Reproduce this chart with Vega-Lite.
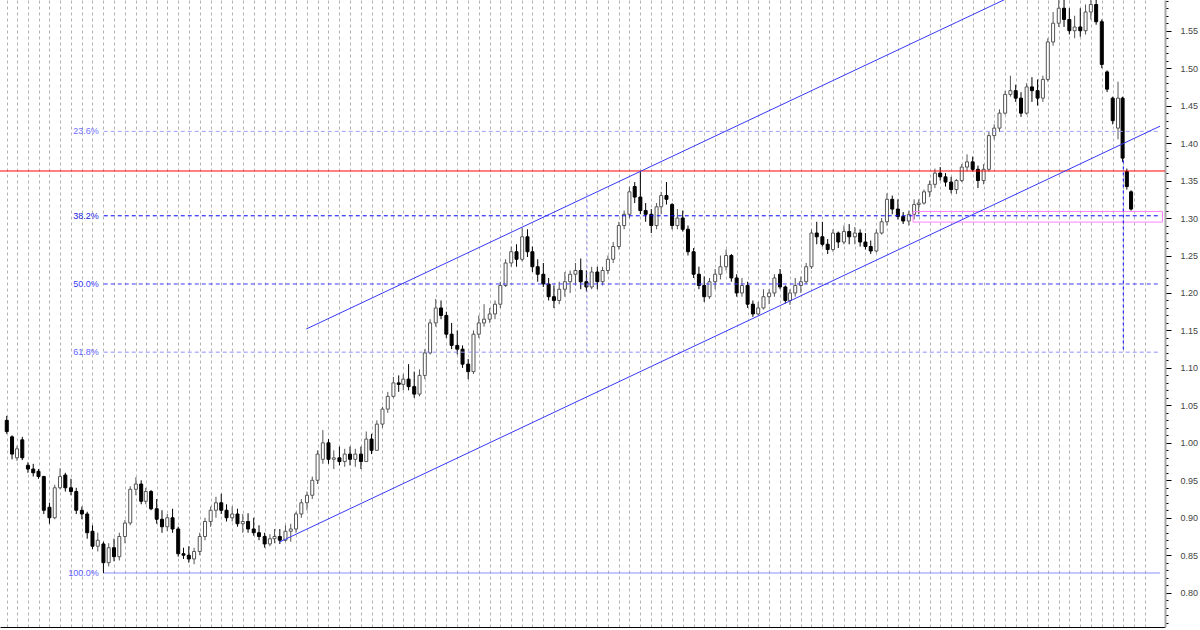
{
  "$schema": "https://vega.github.io/schema/vega-lite/v6.json",
  "width": 1165,
  "height": 627,
  "autosize": {"type": "none"},
  "padding": {"left": 0, "top": 0, "right": 35, "bottom": 3},
  "background": "white",
  "config": {
    "view": {"stroke": null},
    "font": "Liberation Sans",
    "axisX": {"title": null, "labels": false, "ticks": false, "domain": true, "domainColor": "#000000", "domainWidth": 1, "grid": true, "gridColor": "#b2b2b2", "gridDash": [3, 3], "gridWidth": 1},
    "axisY": {"title": null, "grid": false, "labelExpr": "round(datum.value*100) % 5 == 0 ? format(datum.value, '.2f') : ''", "labelOverlap": false, "labelFlush": false, "labelBound": false, "labelFontSize": 9, "labelColor": "#444444", "labelPadding": 9, "tickColor": "#000000", "tickWidth": 1, "domainColor": "#a8a8a8", "domainWidth": 2}
  },
  "datasets": {
    "bars": [
      {"d":"2000-02-01","o":1.030,"h":1.036,"l":1.012,"c":1.015},
      {"d":"2000-02-16","o":1.008,"h":1.010,"l":0.978,"c":0.985},
      {"d":"2000-03-01","o":0.980,"h":0.996,"l":0.976,"c":0.992},
      {"d":"2000-03-16","o":1.004,"h":1.008,"l":0.977,"c":0.980},
      {"d":"2000-04-01","o":0.970,"h":0.974,"l":0.960,"c":0.965},
      {"d":"2000-04-16","o":0.965,"h":0.972,"l":0.955,"c":0.960},
      {"d":"2000-05-01","o":0.962,"h":0.965,"l":0.952,"c":0.955},
      {"d":"2000-05-16","o":0.955,"h":0.956,"l":0.905,"c":0.910},
      {"d":"2000-06-01","o":0.914,"h":0.920,"l":0.892,"c":0.900},
      {"d":"2000-06-16","o":0.900,"h":0.944,"l":0.898,"c":0.940},
      {"d":"2000-07-01","o":0.940,"h":0.966,"l":0.938,"c":0.955},
      {"d":"2000-07-16","o":0.957,"h":0.960,"l":0.935,"c":0.940},
      {"d":"2000-08-01","o":0.940,"h":0.952,"l":0.930,"c":0.935},
      {"d":"2000-08-16","o":0.935,"h":0.940,"l":0.905,"c":0.910},
      {"d":"2000-09-01","o":0.910,"h":0.915,"l":0.898,"c":0.905},
      {"d":"2000-09-16","o":0.905,"h":0.908,"l":0.872,"c":0.880},
      {"d":"2000-10-01","o":0.882,"h":0.890,"l":0.858,"c":0.862},
      {"d":"2000-10-16","o":0.862,"h":0.880,"l":0.855,"c":0.870},
      {"d":"2000-11-01","o":0.865,"h":0.868,"l":0.826,"c":0.840},
      {"d":"2000-11-16","o":0.840,"h":0.866,"l":0.835,"c":0.860},
      {"d":"2000-12-01","o":0.860,"h":0.872,"l":0.842,"c":0.848},
      {"d":"2000-12-16","o":0.848,"h":0.880,"l":0.843,"c":0.875},
      {"d":"2001-01-01","o":0.875,"h":0.897,"l":0.866,"c":0.893},
      {"d":"2001-01-16","o":0.893,"h":0.942,"l":0.890,"c":0.938},
      {"d":"2001-02-01","o":0.938,"h":0.954,"l":0.930,"c":0.945},
      {"d":"2001-02-16","o":0.945,"h":0.950,"l":0.918,"c":0.922},
      {"d":"2001-03-01","o":0.922,"h":0.940,"l":0.918,"c":0.935},
      {"d":"2001-03-16","o":0.935,"h":0.937,"l":0.910,"c":0.912},
      {"d":"2001-04-01","o":0.912,"h":0.925,"l":0.892,"c":0.898},
      {"d":"2001-04-16","o":0.898,"h":0.910,"l":0.880,"c":0.888},
      {"d":"2001-05-01","o":0.888,"h":0.905,"l":0.882,"c":0.900},
      {"d":"2001-05-16","o":0.900,"h":0.912,"l":0.880,"c":0.885},
      {"d":"2001-06-01","o":0.885,"h":0.888,"l":0.848,"c":0.852},
      {"d":"2001-06-16","o":0.852,"h":0.860,"l":0.845,"c":0.850},
      {"d":"2001-07-01","o":0.850,"h":0.862,"l":0.840,"c":0.845},
      {"d":"2001-07-16","o":0.845,"h":0.860,"l":0.838,"c":0.855},
      {"d":"2001-08-01","o":0.855,"h":0.880,"l":0.850,"c":0.875},
      {"d":"2001-08-16","o":0.875,"h":0.900,"l":0.870,"c":0.895},
      {"d":"2001-09-01","o":0.895,"h":0.915,"l":0.888,"c":0.910},
      {"d":"2001-09-16","o":0.910,"h":0.928,"l":0.900,"c":0.920},
      {"d":"2001-10-01","o":0.920,"h":0.932,"l":0.905,"c":0.910},
      {"d":"2001-10-16","o":0.910,"h":0.918,"l":0.895,"c":0.900},
      {"d":"2001-11-01","o":0.900,"h":0.915,"l":0.895,"c":0.905},
      {"d":"2001-11-16","o":0.905,"h":0.912,"l":0.888,"c":0.892},
      {"d":"2001-12-01","o":0.892,"h":0.905,"l":0.880,"c":0.895},
      {"d":"2001-12-16","o":0.895,"h":0.906,"l":0.880,"c":0.885},
      {"d":"2002-01-01","o":0.885,"h":0.900,"l":0.876,"c":0.880},
      {"d":"2002-01-16","o":0.880,"h":0.890,"l":0.870,"c":0.875},
      {"d":"2002-02-01","o":0.875,"h":0.880,"l":0.860,"c":0.865},
      {"d":"2002-02-16","o":0.865,"h":0.878,"l":0.862,"c":0.872},
      {"d":"2002-03-01","o":0.872,"h":0.885,"l":0.866,"c":0.875},
      {"d":"2002-03-16","o":0.875,"h":0.885,"l":0.865,"c":0.870},
      {"d":"2002-04-01","o":0.870,"h":0.890,"l":0.868,"c":0.882},
      {"d":"2002-04-16","o":0.882,"h":0.892,"l":0.868,"c":0.885},
      {"d":"2002-05-01","o":0.885,"h":0.908,"l":0.880,"c":0.905},
      {"d":"2002-05-16","o":0.905,"h":0.925,"l":0.900,"c":0.920},
      {"d":"2002-06-01","o":0.920,"h":0.935,"l":0.910,"c":0.930},
      {"d":"2002-06-16","o":0.930,"h":0.955,"l":0.925,"c":0.950},
      {"d":"2002-07-01","o":0.950,"h":0.990,"l":0.945,"c":0.985},
      {"d":"2002-07-16","o":0.978,"h":1.017,"l":0.972,"c":1.000},
      {"d":"2002-08-01","o":1.000,"h":1.005,"l":0.972,"c":0.978},
      {"d":"2002-08-16","o":0.978,"h":0.990,"l":0.965,"c":0.980},
      {"d":"2002-09-01","o":0.980,"h":0.995,"l":0.970,"c":0.975},
      {"d":"2002-09-16","o":0.975,"h":0.992,"l":0.968,"c":0.985},
      {"d":"2002-10-01","o":0.985,"h":0.995,"l":0.970,"c":0.978},
      {"d":"2002-10-16","o":0.978,"h":0.992,"l":0.968,"c":0.985},
      {"d":"2002-11-01","o":0.985,"h":0.995,"l":0.965,"c":0.975},
      {"d":"2002-11-16","o":0.975,"h":1.015,"l":0.975,"c":1.005},
      {"d":"2002-12-01","o":1.005,"h":1.012,"l":0.985,"c":0.990},
      {"d":"2002-12-16","o":0.990,"h":1.030,"l":0.990,"c":1.025},
      {"d":"2003-01-01","o":1.025,"h":1.048,"l":1.020,"c":1.045},
      {"d":"2003-01-16","o":1.045,"h":1.068,"l":1.040,"c":1.062},
      {"d":"2003-02-01","o":1.062,"h":1.088,"l":1.060,"c":1.080},
      {"d":"2003-02-16","o":1.080,"h":1.090,"l":1.068,"c":1.078},
      {"d":"2003-03-01","o":1.078,"h":1.092,"l":1.070,"c":1.085},
      {"d":"2003-03-16","o":1.085,"h":1.105,"l":1.070,"c":1.075},
      {"d":"2003-04-01","o":1.075,"h":1.095,"l":1.060,"c":1.065},
      {"d":"2003-04-16","o":1.065,"h":1.098,"l":1.062,"c":1.090},
      {"d":"2003-05-01","o":1.090,"h":1.125,"l":1.085,"c":1.120},
      {"d":"2003-05-16","o":1.120,"h":1.165,"l":1.118,"c":1.160},
      {"d":"2003-06-01","o":1.160,"h":1.192,"l":1.155,"c":1.180},
      {"d":"2003-06-16","o":1.180,"h":1.190,"l":1.165,"c":1.170},
      {"d":"2003-07-01","o":1.170,"h":1.175,"l":1.140,"c":1.145},
      {"d":"2003-07-16","o":1.145,"h":1.160,"l":1.125,"c":1.130},
      {"d":"2003-08-01","o":1.130,"h":1.150,"l":1.118,"c":1.125},
      {"d":"2003-08-16","o":1.125,"h":1.130,"l":1.100,"c":1.105},
      {"d":"2003-09-01","o":1.105,"h":1.112,"l":1.085,"c":1.095},
      {"d":"2003-09-16","o":1.095,"h":1.150,"l":1.092,"c":1.145},
      {"d":"2003-10-01","o":1.145,"h":1.170,"l":1.140,"c":1.160},
      {"d":"2003-10-16","o":1.160,"h":1.185,"l":1.155,"c":1.165},
      {"d":"2003-11-01","o":1.165,"h":1.180,"l":1.160,"c":1.172},
      {"d":"2003-11-16","o":1.172,"h":1.190,"l":1.165,"c":1.185},
      {"d":"2003-12-01","o":1.185,"h":1.215,"l":1.180,"c":1.210},
      {"d":"2003-12-16","o":1.210,"h":1.245,"l":1.208,"c":1.240},
      {"d":"2004-01-01","o":1.240,"h":1.262,"l":1.235,"c":1.255},
      {"d":"2004-01-16","o":1.255,"h":1.265,"l":1.235,"c":1.245},
      {"d":"2004-02-01","o":1.245,"h":1.287,"l":1.242,"c":1.275},
      {"d":"2004-02-16","o":1.275,"h":1.285,"l":1.248,"c":1.255},
      {"d":"2004-03-01","o":1.255,"h":1.262,"l":1.228,"c":1.235},
      {"d":"2004-03-16","o":1.235,"h":1.245,"l":1.215,"c":1.225},
      {"d":"2004-04-01","o":1.225,"h":1.240,"l":1.208,"c":1.212},
      {"d":"2004-04-16","o":1.212,"h":1.220,"l":1.190,"c":1.195},
      {"d":"2004-05-01","o":1.195,"h":1.210,"l":1.180,"c":1.190},
      {"d":"2004-05-16","o":1.190,"h":1.215,"l":1.185,"c":1.205},
      {"d":"2004-06-01","o":1.205,"h":1.228,"l":1.195,"c":1.215},
      {"d":"2004-06-16","o":1.215,"h":1.230,"l":1.200,"c":1.225},
      {"d":"2004-07-01","o":1.225,"h":1.240,"l":1.210,"c":1.230},
      {"d":"2004-07-16","o":1.230,"h":1.246,"l":1.205,"c":1.215},
      {"d":"2004-08-01","o":1.215,"h":1.230,"l":1.202,"c":1.208},
      {"d":"2004-08-16","o":1.208,"h":1.235,"l":1.205,"c":1.228},
      {"d":"2004-09-01","o":1.228,"h":1.235,"l":1.205,"c":1.215},
      {"d":"2004-09-16","o":1.215,"h":1.235,"l":1.210,"c":1.230},
      {"d":"2004-10-01","o":1.230,"h":1.250,"l":1.225,"c":1.245},
      {"d":"2004-10-16","o":1.245,"h":1.268,"l":1.240,"c":1.262},
      {"d":"2004-11-01","o":1.262,"h":1.295,"l":1.258,"c":1.290},
      {"d":"2004-11-16","o":1.290,"h":1.310,"l":1.285,"c":1.305},
      {"d":"2004-12-01","o":1.305,"h":1.342,"l":1.300,"c":1.335},
      {"d":"2004-12-16","o":1.342,"h":1.348,"l":1.320,"c":1.328},
      {"d":"2005-01-01","o":1.328,"h":1.362,"l":1.305,"c":1.310},
      {"d":"2005-01-16","o":1.310,"h":1.320,"l":1.295,"c":1.305},
      {"d":"2005-02-01","o":1.305,"h":1.312,"l":1.280,"c":1.290},
      {"d":"2005-02-16","o":1.290,"h":1.320,"l":1.285,"c":1.315},
      {"d":"2005-03-01","o":1.315,"h":1.335,"l":1.305,"c":1.330},
      {"d":"2005-03-16","o":1.330,"h":1.348,"l":1.318,"c":1.325},
      {"d":"2005-04-01","o":1.318,"h":1.320,"l":1.285,"c":1.290},
      {"d":"2005-04-16","o":1.290,"h":1.312,"l":1.285,"c":1.300},
      {"d":"2005-05-01","o":1.300,"h":1.310,"l":1.282,"c":1.285},
      {"d":"2005-05-16","o":1.285,"h":1.290,"l":1.250,"c":1.255},
      {"d":"2005-06-01","o":1.255,"h":1.260,"l":1.220,"c":1.225},
      {"d":"2005-06-16","o":1.225,"h":1.235,"l":1.205,"c":1.210},
      {"d":"2005-07-01","o":1.210,"h":1.222,"l":1.188,"c":1.195},
      {"d":"2005-07-16","o":1.195,"h":1.220,"l":1.192,"c":1.215},
      {"d":"2005-08-01","o":1.215,"h":1.232,"l":1.205,"c":1.225},
      {"d":"2005-08-16","o":1.225,"h":1.250,"l":1.218,"c":1.235},
      {"d":"2005-09-01","o":1.235,"h":1.258,"l":1.230,"c":1.250},
      {"d":"2005-09-16","o":1.250,"h":1.252,"l":1.215,"c":1.220},
      {"d":"2005-10-01","o":1.220,"h":1.225,"l":1.195,"c":1.200},
      {"d":"2005-10-16","o":1.200,"h":1.220,"l":1.195,"c":1.210},
      {"d":"2005-11-01","o":1.210,"h":1.215,"l":1.180,"c":1.185},
      {"d":"2005-11-16","o":1.185,"h":1.190,"l":1.168,"c":1.172},
      {"d":"2005-12-01","o":1.172,"h":1.188,"l":1.170,"c":1.180},
      {"d":"2005-12-16","o":1.180,"h":1.205,"l":1.178,"c":1.195},
      {"d":"2006-01-01","o":1.195,"h":1.205,"l":1.185,"c":1.200},
      {"d":"2006-01-16","o":1.200,"h":1.225,"l":1.195,"c":1.220},
      {"d":"2006-02-01","o":1.225,"h":1.232,"l":1.205,"c":1.208},
      {"d":"2006-02-16","o":1.208,"h":1.210,"l":1.186,"c":1.190},
      {"d":"2006-03-01","o":1.190,"h":1.205,"l":1.184,"c":1.200},
      {"d":"2006-03-16","o":1.200,"h":1.220,"l":1.195,"c":1.210},
      {"d":"2006-04-01","o":1.210,"h":1.222,"l":1.200,"c":1.215},
      {"d":"2006-04-16","o":1.215,"h":1.240,"l":1.212,"c":1.235},
      {"d":"2006-05-01","o":1.235,"h":1.285,"l":1.232,"c":1.280},
      {"d":"2006-05-16","o":1.280,"h":1.295,"l":1.265,"c":1.275},
      {"d":"2006-06-01","o":1.275,"h":1.295,"l":1.262,"c":1.265},
      {"d":"2006-06-16","o":1.265,"h":1.272,"l":1.252,"c":1.258},
      {"d":"2006-07-01","o":1.258,"h":1.285,"l":1.255,"c":1.280},
      {"d":"2006-07-16","o":1.280,"h":1.282,"l":1.260,"c":1.268},
      {"d":"2006-08-01","o":1.268,"h":1.290,"l":1.265,"c":1.282},
      {"d":"2006-08-16","o":1.282,"h":1.292,"l":1.265,"c":1.275},
      {"d":"2006-09-01","o":1.275,"h":1.288,"l":1.265,"c":1.280},
      {"d":"2006-09-16","o":1.280,"h":1.285,"l":1.262,"c":1.268},
      {"d":"2006-10-01","o":1.268,"h":1.280,"l":1.258,"c":1.262},
      {"d":"2006-10-16","o":1.262,"h":1.270,"l":1.252,"c":1.256},
      {"d":"2006-11-01","o":1.256,"h":1.285,"l":1.254,"c":1.280},
      {"d":"2006-11-16","o":1.280,"h":1.300,"l":1.278,"c":1.295},
      {"d":"2006-12-01","o":1.295,"h":1.333,"l":1.290,"c":1.325},
      {"d":"2006-12-16","o":1.325,"h":1.330,"l":1.305,"c":1.312},
      {"d":"2007-01-01","o":1.312,"h":1.325,"l":1.298,"c":1.302},
      {"d":"2007-01-16","o":1.302,"h":1.308,"l":1.292,"c":1.296},
      {"d":"2007-02-01","o":1.296,"h":1.310,"l":1.290,"c":1.305},
      {"d":"2007-02-16","o":1.305,"h":1.325,"l":1.298,"c":1.318},
      {"d":"2007-03-01","o":1.318,"h":1.325,"l":1.305,"c":1.320},
      {"d":"2007-03-16","o":1.320,"h":1.338,"l":1.318,"c":1.335},
      {"d":"2007-04-01","o":1.335,"h":1.350,"l":1.328,"c":1.345},
      {"d":"2007-04-16","o":1.345,"h":1.366,"l":1.340,"c":1.360},
      {"d":"2007-05-01","o":1.360,"h":1.368,"l":1.350,"c":1.355},
      {"d":"2007-05-16","o":1.355,"h":1.360,"l":1.342,"c":1.348},
      {"d":"2007-06-01","o":1.348,"h":1.355,"l":1.333,"c":1.338},
      {"d":"2007-06-16","o":1.338,"h":1.352,"l":1.332,"c":1.350},
      {"d":"2007-07-01","o":1.350,"h":1.372,"l":1.348,"c":1.368},
      {"d":"2007-07-16","o":1.368,"h":1.385,"l":1.362,"c":1.375},
      {"d":"2007-08-01","o":1.375,"h":1.382,"l":1.362,"c":1.365},
      {"d":"2007-08-16","o":1.365,"h":1.370,"l":1.340,"c":1.350},
      {"d":"2007-09-01","o":1.350,"h":1.372,"l":1.345,"c":1.365},
      {"d":"2007-09-16","o":1.365,"h":1.415,"l":1.362,"c":1.410},
      {"d":"2007-10-01","o":1.410,"h":1.425,"l":1.405,"c":1.420},
      {"d":"2007-10-16","o":1.420,"h":1.445,"l":1.415,"c":1.440},
      {"d":"2007-11-01","o":1.440,"h":1.470,"l":1.438,"c":1.465},
      {"d":"2007-11-16","o":1.465,"h":1.490,"l":1.462,"c":1.470},
      {"d":"2007-12-01","o":1.470,"h":1.478,"l":1.455,"c":1.460},
      {"d":"2007-12-16","o":1.460,"h":1.468,"l":1.435,"c":1.440},
      {"d":"2008-01-01","o":1.440,"h":1.480,"l":1.438,"c":1.475},
      {"d":"2008-01-16","o":1.475,"h":1.488,"l":1.455,"c":1.470},
      {"d":"2008-02-01","o":1.470,"h":1.485,"l":1.450,"c":1.460},
      {"d":"2008-02-16","o":1.460,"h":1.490,"l":1.455,"c":1.485},
      {"d":"2008-03-01","o":1.485,"h":1.540,"l":1.482,"c":1.535},
      {"d":"2008-03-16","o":1.535,"h":1.575,"l":1.530,"c":1.560},
      {"d":"2008-04-01","o":1.560,"h":1.592,"l":1.555,"c":1.580},
      {"d":"2008-04-16","o":1.580,"h":1.600,"l":1.555,"c":1.565},
      {"d":"2008-05-01","o":1.565,"h":1.580,"l":1.545,"c":1.550},
      {"d":"2008-05-16","o":1.550,"h":1.570,"l":1.540,"c":1.555},
      {"d":"2008-06-01","o":1.555,"h":1.580,"l":1.542,"c":1.550},
      {"d":"2008-06-16","o":1.550,"h":1.585,"l":1.545,"c":1.575},
      {"d":"2008-07-01","o":1.575,"h":1.600,"l":1.565,"c":1.585},
      {"d":"2008-07-16","o":1.585,"h":1.604,"l":1.558,"c":1.562},
      {"d":"2008-08-01","o":1.562,"h":1.565,"l":1.500,"c":1.505},
      {"d":"2008-08-16","o":1.495,"h":1.497,"l":1.468,"c":1.472},
      {"d":"2008-09-01","o":1.460,"h":1.462,"l":1.425,"c":1.430},
      {"d":"2008-09-16","o":1.420,"h":1.482,"l":1.405,"c":1.460},
      {"d":"2008-09-29","o":1.460,"h":1.462,"l":1.375,"c":1.380},
      {"d":"2008-10-11","o":1.362,"h":1.366,"l":1.338,"c":1.342},
      {"d":"2008-10-23","o":1.335,"h":1.337,"l":1.310,"c":1.312}
    ],
    "fib": [
      {"label":"23.6%","start":"2000-11-02","end":"2009-01-13","p":1.4157},
      {"label":"38.2%","start":"2000-11-02","end":"2009-01-13","p":1.3030},
      {"label":"50.0%","start":"2000-11-02","end":"2009-01-13","p":1.2120},
      {"label":"61.8%","start":"2000-11-02","end":"2009-01-13","p":1.1210},
      {"label":"100.0%","start":"2000-11-02","end":"2009-01-13","p":0.8263}
    ],
    "resistance": [{"name":"resistance","p":1.3628}],
    "zone": [{"d1":"2007-02-13","d2":"2009-01-20","lo":1.2946,"hi":1.3088}],
    "channel": [
      {"name":"lower","d1":"2002-03-15","p1":0.8676,"d2":"2009-01-13","p2":1.4226},
      {"name":"upper","d1":"2002-05-30","p1":1.1519,"d2":"2009-01-13","p2":1.6894}
    ],
    "vlines": [
      {"name":"v1","d":"2004-08-03","p1":1.3325,"p2":1.121},
      {"name":"v2","d":"2008-10-01","p1":1.377,"p2":1.121}
    ]
  },
  "layer": [
    {
      "data": {"name": "bars"},
      "mark": {"type": "rule", "clip": true, "strokeWidth": 1},
      "encoding": {
        "x": {
          "field": "d", "type": "temporal", "title": null,
          "scale": {"type": "utc", "domain": [{"year": 2000, "month": 1, "date": 27, "utc": true}, {"year": 2009, "month": 1, "date": 13, "utc": true}]},
          "axis": {"orient": "bottom", "tickCount": 500,
            "values": [
              {"year":2000,"month":2,"date":1,"utc":true},{"year":2000,"month":3,"date":1,"utc":true},{"year":2000,"month":4,"date":1,"utc":true},{"year":2000,"month":5,"date":1,"utc":true},{"year":2000,"month":6,"date":1,"utc":true},{"year":2000,"month":7,"date":1,"utc":true},{"year":2000,"month":8,"date":1,"utc":true},{"year":2000,"month":9,"date":1,"utc":true},{"year":2000,"month":10,"date":1,"utc":true},{"year":2000,"month":11,"date":1,"utc":true},{"year":2000,"month":12,"date":1,"utc":true},
              {"year":2001,"month":1,"date":1,"utc":true},{"year":2001,"month":2,"date":1,"utc":true},{"year":2001,"month":3,"date":1,"utc":true},{"year":2001,"month":4,"date":1,"utc":true},{"year":2001,"month":5,"date":1,"utc":true},{"year":2001,"month":6,"date":1,"utc":true},{"year":2001,"month":7,"date":1,"utc":true},{"year":2001,"month":8,"date":1,"utc":true},{"year":2001,"month":9,"date":1,"utc":true},{"year":2001,"month":10,"date":1,"utc":true},{"year":2001,"month":11,"date":1,"utc":true},{"year":2001,"month":12,"date":1,"utc":true},
              {"year":2002,"month":1,"date":1,"utc":true},{"year":2002,"month":2,"date":1,"utc":true},{"year":2002,"month":3,"date":1,"utc":true},{"year":2002,"month":4,"date":1,"utc":true},{"year":2002,"month":5,"date":1,"utc":true},{"year":2002,"month":6,"date":1,"utc":true},{"year":2002,"month":7,"date":1,"utc":true},{"year":2002,"month":8,"date":1,"utc":true},{"year":2002,"month":9,"date":1,"utc":true},{"year":2002,"month":10,"date":1,"utc":true},{"year":2002,"month":11,"date":1,"utc":true},{"year":2002,"month":12,"date":1,"utc":true},
              {"year":2003,"month":1,"date":1,"utc":true},{"year":2003,"month":2,"date":1,"utc":true},{"year":2003,"month":3,"date":1,"utc":true},{"year":2003,"month":4,"date":1,"utc":true},{"year":2003,"month":5,"date":1,"utc":true},{"year":2003,"month":6,"date":1,"utc":true},{"year":2003,"month":7,"date":1,"utc":true},{"year":2003,"month":8,"date":1,"utc":true},{"year":2003,"month":9,"date":1,"utc":true},{"year":2003,"month":10,"date":1,"utc":true},{"year":2003,"month":11,"date":1,"utc":true},{"year":2003,"month":12,"date":1,"utc":true},
              {"year":2004,"month":1,"date":1,"utc":true},{"year":2004,"month":2,"date":1,"utc":true},{"year":2004,"month":3,"date":1,"utc":true},{"year":2004,"month":4,"date":1,"utc":true},{"year":2004,"month":5,"date":1,"utc":true},{"year":2004,"month":6,"date":1,"utc":true},{"year":2004,"month":7,"date":1,"utc":true},{"year":2004,"month":8,"date":1,"utc":true},{"year":2004,"month":9,"date":1,"utc":true},{"year":2004,"month":10,"date":1,"utc":true},{"year":2004,"month":11,"date":1,"utc":true},{"year":2004,"month":12,"date":1,"utc":true},
              {"year":2005,"month":1,"date":1,"utc":true},{"year":2005,"month":2,"date":1,"utc":true},{"year":2005,"month":3,"date":1,"utc":true},{"year":2005,"month":4,"date":1,"utc":true},{"year":2005,"month":5,"date":1,"utc":true},{"year":2005,"month":6,"date":1,"utc":true},{"year":2005,"month":7,"date":1,"utc":true},{"year":2005,"month":8,"date":1,"utc":true},{"year":2005,"month":9,"date":1,"utc":true},{"year":2005,"month":10,"date":1,"utc":true},{"year":2005,"month":11,"date":1,"utc":true},{"year":2005,"month":12,"date":1,"utc":true},
              {"year":2006,"month":1,"date":1,"utc":true},{"year":2006,"month":2,"date":1,"utc":true},{"year":2006,"month":3,"date":1,"utc":true},{"year":2006,"month":4,"date":1,"utc":true},{"year":2006,"month":5,"date":1,"utc":true},{"year":2006,"month":6,"date":1,"utc":true},{"year":2006,"month":7,"date":1,"utc":true},{"year":2006,"month":8,"date":1,"utc":true},{"year":2006,"month":9,"date":1,"utc":true},{"year":2006,"month":10,"date":1,"utc":true},{"year":2006,"month":11,"date":1,"utc":true},{"year":2006,"month":12,"date":1,"utc":true},
              {"year":2007,"month":1,"date":1,"utc":true},{"year":2007,"month":2,"date":1,"utc":true},{"year":2007,"month":3,"date":1,"utc":true},{"year":2007,"month":4,"date":1,"utc":true},{"year":2007,"month":5,"date":1,"utc":true},{"year":2007,"month":6,"date":1,"utc":true},{"year":2007,"month":7,"date":1,"utc":true},{"year":2007,"month":8,"date":1,"utc":true},{"year":2007,"month":9,"date":1,"utc":true},{"year":2007,"month":10,"date":1,"utc":true},{"year":2007,"month":11,"date":1,"utc":true},{"year":2007,"month":12,"date":1,"utc":true},
              {"year":2008,"month":1,"date":1,"utc":true},{"year":2008,"month":2,"date":1,"utc":true},{"year":2008,"month":3,"date":1,"utc":true},{"year":2008,"month":4,"date":1,"utc":true},{"year":2008,"month":5,"date":1,"utc":true},{"year":2008,"month":6,"date":1,"utc":true},{"year":2008,"month":7,"date":1,"utc":true},{"year":2008,"month":8,"date":1,"utc":true},{"year":2008,"month":9,"date":1,"utc":true},{"year":2008,"month":10,"date":1,"utc":true},{"year":2008,"month":11,"date":1,"utc":true},{"year":2008,"month":12,"date":1,"utc":true}
            ]
          }
        },
        "y": {
          "field": "l", "type": "quantitative", "title": null,
          "scale": {"domain": [0.7542, 1.591], "nice": false, "zero": false},
          "axis": {"orient": "right", "tickCount": 84, "tickSize": {"condition": {"test": "round(datum.value*100) % 5 == 0", "value": 6}, "value": 3}}
        },
        "y2": {"field": "h"},
        "stroke": {"condition": {"test": "datum.c < datum.o", "value": "#000000"}, "value": "#555555"}
      }
    },
    {
      "data": {"name": "bars"},
      "mark": {"type": "bar", "width": 3, "clip": true, "strokeWidth": 1},
      "encoding": {
        "x": {"field": "d", "type": "temporal", "title": null, "axis": {"orient": "bottom"}},
        "y": {"field": "o", "type": "quantitative", "title": null, "axis": {"orient": "right", "tickCount": 84}},
        "y2": {"field": "c"},
        "fill": {"condition": {"test": "datum.c < datum.o", "value": "#000000"}, "value": "#ffffff"},
        "stroke": {"condition": {"test": "datum.c < datum.o", "value": "#000000"}, "value": "#555555"}
      }
    },
    {
      "data": {"name": "fib"},
      "mark": {"type": "rule", "clip": true, "strokeWidth": 1},
      "encoding": {
        "x": {"field": "start", "type": "temporal", "title": null, "axis": {"orient": "bottom"}},
        "x2": {"field": "end"},
        "y": {"field": "p", "type": "quantitative", "title": null, "axis": {"orient": "right", "tickCount": 84}},
        "stroke": {"field": "label", "type": "nominal", "legend": null, "scale": {"domain": ["23.6%", "38.2%", "50.0%", "61.8%", "100.0%"], "range": ["#a0a0ff", "#0000ff", "#3c3cff", "#9090ff", "#8080ff"]}},
        "strokeDash": {"field": "label", "type": "nominal", "legend": null, "scale": {"domain": ["23.6%", "38.2%", "50.0%", "61.8%", "100.0%"], "range": [[4, 3], [4, 3], [4, 3], [4, 3], [1, 0]]}}
      }
    },
    {
      "data": {"name": "fib"},
      "mark": {"type": "text", "align": "right", "baseline": "middle", "dx": -5, "fontSize": 9, "font": "Liberation Sans"},
      "encoding": {
        "x": {"field": "start", "type": "temporal", "title": null, "axis": {"orient": "bottom"}},
        "y": {"field": "p", "type": "quantitative", "title": null, "axis": {"orient": "right", "tickCount": 84}},
        "text": {"field": "label"},
        "fill": {"field": "label", "type": "nominal", "legend": null, "scale": {"domain": ["23.6%", "38.2%", "50.0%", "61.8%", "100.0%"], "range": ["#7070ff", "#2020e0", "#4040ff", "#6060ff", "#6060ff"]}}
      }
    },
    {
      "data": {"name": "resistance"},
      "mark": {"type": "rule", "color": "#ff0000", "strokeWidth": 1},
      "encoding": {"y": {"field": "p", "type": "quantitative", "title": null, "axis": {"orient": "right", "tickCount": 84}}}
    },
    {
      "data": {"name": "zone"},
      "mark": {"type": "rect", "clip": true, "fill": "#ffffff", "fillOpacity": 0, "stroke": "#ff80ff", "strokeWidth": 1},
      "encoding": {
        "x": {"field": "d1", "type": "temporal", "title": null, "axis": {"orient": "bottom"}},
        "x2": {"field": "d2"},
        "y": {"field": "lo", "type": "quantitative", "title": null, "axis": {"orient": "right", "tickCount": 84}},
        "y2": {"field": "hi"}
      }
    },
    {
      "data": {"name": "channel"},
      "mark": {"type": "rule", "clip": true, "color": "#3838f8", "strokeWidth": 1},
      "encoding": {
        "x": {"field": "d1", "type": "temporal", "title": null, "axis": {"orient": "bottom"}},
        "x2": {"field": "d2"},
        "y": {"field": "p1", "type": "quantitative", "title": null, "axis": {"orient": "right", "tickCount": 84}},
        "y2": {"field": "p2"}
      }
    },
    {
      "data": {"name": "vlines"},
      "mark": {"type": "rule", "clip": true, "strokeWidth": 1, "strokeDash": [3, 3]},
      "encoding": {
        "x": {"field": "d", "type": "temporal", "title": null, "axis": {"orient": "bottom"}},
        "y": {"field": "p1", "type": "quantitative", "title": null, "axis": {"orient": "right", "tickCount": 84}},
        "y2": {"field": "p2"},
        "stroke": {"field": "name", "type": "nominal", "legend": null, "scale": {"domain": ["v1", "v2"], "range": ["#a0a0ff", "#0000ff"]}}
      }
    }
  ]
}
